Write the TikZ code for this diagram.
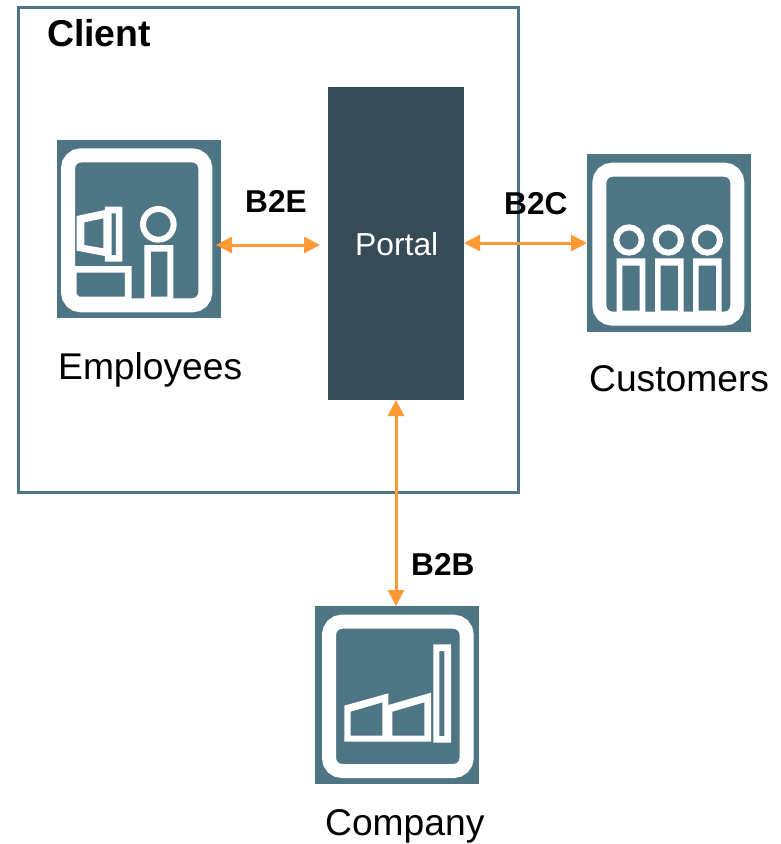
\documentclass[tikz,border=0pt]{standalone}
\usepackage{fontspec}
\setmainfont{Liberation Sans}
\usetikzlibrary{arrows.meta}
\definecolor{tealc}{HTML}{4D7584}
\definecolor{borderc}{HTML}{4F7584}
\definecolor{portalc}{HTML}{374B57}
\definecolor{orangec}{HTML}{FF9933}
\tikzset{
  x=1pt,y=-1pt,
  tile/.style={rectangle,fill=tealc,draw=none,inner sep=0pt,outer sep=0pt,minimum width=164pt,minimum height=178pt},
  frameline/.style={draw=white,line width=14pt,rounded corners=13pt},
  stroke/.style={draw=white,line width=6pt},
  solid white/.style={fill=white,even odd rule},
  biarrow/.style={draw=orangec,line width=3pt,{Triangle[length=16pt,width=16pt]}-{Triangle[length=16pt,width=16pt]}},
  biglabel/.style={inner sep=0pt,anchor=base west,font=\fontsize{37.2}{40}\selectfont},
  boldlabel/.style={inner sep=0pt,anchor=base west,font=\fontsize{31.6}{34}\selectfont\bfseries},
}
\begin{document}
\begin{tikzpicture}
\useasboundingbox (0,0) rectangle (781,844);
\fill[white] (0,0) rectangle (781,844);

% Client box
\node[rectangle,draw=borderc,line width=3pt,inner sep=0pt,minimum width=500pt,minimum height=485pt] (client) at (268,249.5) {};
\node[inner sep=0pt,anchor=base west,font=\fontsize{37.4}{40}\selectfont\bfseries] (clientlabel) at (47,46) {Client};

% Portal
\node[rectangle,fill=portalc,inner sep=0pt,outer sep=0pt,minimum width=136pt,minimum height=313pt] (portal) at (396,243.5) {};
\node[inner sep=0pt,anchor=base west,text=white,font=\fontsize{31.8}{34}\selectfont] (portallabel) at (355,255) {Portal};

% Tiles
\node[tile] (emp) at (139,229) {};
\node[tile] (cust) at (669,243) {};
\node[tile] (comp) at (397,695) {};

% Employees icon
\begin{scope}[shift={(40,130)},scale=1/3]
  \draw[frameline] (84,76) rectangle (496,526);
  \fill[solid white] (110,258)--(195,240)--(195,230)--(247,230)--(247,395)--(195,395)--(195,378)--(110,362)--cycle
     (133,277)--(190,265)--(190,355)--(133,345)--cycle
     (215,250)--(228,250)--(228,375)--(215,375)--cycle;
  \draw[stroke] (355,283) circle (46);
  \fill[solid white] (313,345) rectangle (400,510) (333,365) rectangle (382,500);
  \fill[solid white] (103,408) rectangle (275,510) (110,428)--(255,428)--(255,500)--(118,500)--(110,492)--cycle;
\end{scope}

% Customers icon
\begin{scope}[shift={(460,145)},scale=1/3]
  \draw[frameline] (418,74) rectangle (832,521);
  \foreach \cx/\bx in {507/513,625/628,742/742}{
    \draw[stroke] (\cx,285) circle (38);
    \fill[solid white] ({\bx-43},340) rectangle ({\bx+43},505) ({\bx-26},362) rectangle ({\bx+26},497);
  }
\end{scope}

% Company icon
\begin{scope}[shift={(305,595)},scale=1/3]
  \draw[frameline] (72,80) rectangle (485,528);
  \fill[solid white] (118,332)--(250,295)--(250,330)--(378,293)--(378,440)--(118,440)--cycle
     (137,350)--(232,322)--(232,422)--(137,422)--cycle
     (262,350)--(358,322)--(358,422)--(262,422)--cycle;
  \fill[solid white] (385,148) rectangle (438,443) (403,168) rectangle (418,423);
\end{scope}

% Connectors
\draw[biarrow] ([shift={(-5,16)}]emp.east) -- ([shift={(-8,1.5)}]portal.west);
\draw[biarrow] (portal.east |- cust.west) -- (cust.west);
\draw[biarrow] (portal.south) -- (portal.south |- comp.north);

% Labels
\node[biglabel] (emplabel) at (58,379) {Employees};
\node[biglabel] (custlabel) at (589,391) {Customers};
\node[biglabel] (complabel) at (325,835.5) {Company};
\node[boldlabel] (b2e) at (245,212) {B2E};
\node[boldlabel] (b2c) at (504,214) {B2C};
\node[boldlabel] (b2b) at (411,575) {B2B};
\end{tikzpicture}
\end{document}
